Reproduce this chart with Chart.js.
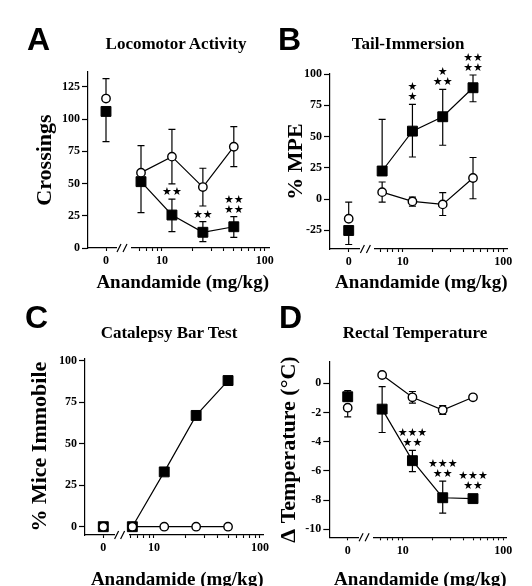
<!DOCTYPE html>
<html>
<head>
<meta charset="utf-8">
<script src="https://cdn.jsdelivr.net/npm/chart.js@4.4.1/dist/chart.umd.min.js"></script>
<style>
  body { margin: 0; background: #fff; }
  #wrap { position: relative; width: 532px; height: 586px; overflow: hidden; }
  canvas { position: absolute; left: 0; top: 0; }
  .letter { position: absolute; font: bold 32px "Liberation Sans", Arial, sans-serif; line-height: 1; color: #000; }
  .ptitle { position: absolute; font: bold 17px "Liberation Serif", "Times New Roman", serif; line-height: 1;
            color: #000; white-space: nowrap; transform: translateX(-50%); }
</style>
</head>
<body>
<div id="wrap">
  <canvas id="chartA" width="532" height="586"></canvas>
  <canvas id="chartB" width="532" height="586"></canvas>
  <canvas id="chartC" width="532" height="586"></canvas>
  <canvas id="chartD" width="532" height="586"></canvas>
  <div class="letter" style="left:27px;top:23px">A</div>
  <div class="letter" style="left:278px;top:23px">B</div>
  <div class="letter" style="left:25px;top:301px">C</div>
  <div class="letter" style="left:279px;top:301px">D</div>
  <div class="ptitle" style="left:176px;top:35px">Locomotor Activity</div>
  <div class="ptitle" style="left:408px;top:35px">Tail-Immersion</div>
  <div class="ptitle" style="left:169px;top:324px">Catalepsy Bar Test</div>
  <div class="ptitle" style="left:415px;top:324px">Rectal Temperature</div>
</div>
<script>
// doses on the log part of the x axis; the first value of every series below is the 0 mg/kg point
const doses = [6.25, 12.5, 25, 50];
const logTicks = [6, 7, 8, 9, 10, 20, 30, 40, 50, 60, 70, 80, 90, 100];
const logLabels = [10, 100];
const xTitle = 'Anandamide (mg/kg)';

// A - Locomotor Activity
const locoTicks = [0, 25, 50, 75, 100, 125];
const locoOpen = [116, 58.5, 70.9, 47.3, 78.6];
const locoOpenUp = [15.5, 21, 21.2, 14.6, 15.6];
const locoOpenDown = [0, 0, 21.2, 14.7, 15.5];
const locoFilled = [106, 51.5, 25.6, 12.2, 16.5];
const locoFilledUp = [0, 0, 12.4, 8.2, 7.8];
const locoFilledDown = [23.5, 24.1, 12.9, 7.3, 8.2];
const locoStars = ['', '', '**', '**', '**\n**'];

// B - Tail-Immersion
const tailTicks = [-25, 0, 25, 50, 75, 100];
const tailOpen = [-15.8, 5.5, -1.9, -4.3, 16.8];
const tailOpenUp = [13.3, 8.1, 3.4, 9.4, 16.4];
const tailOpenDown = [0, 8, 3.8, 8.9, 16.6];
const tailFilled = [-25.2, 22.4, 54.3, 65.8, 89];
const tailFilledUp = [0, 41.3, 21.4, 21.9, 10.2];
const tailFilledDown = [11.2, 0, 20.7, 22.8, 11.2];
const tailStars = ['', '', '*\n*', '*\n**', '**\n**'];

// C - Catalepsy Bar Test
const catTicks = [0, 25, 50, 75, 100];
const catOpen = [0, 0, 0, 0, 0];
const catFilled = [0, 0, 33, 67, 88];

// D - Rectal Temperature
const tempTicks = [-10, -8, -6, -4, -2, 0];
const tempOpen = [-1.67, 0.57, -0.96, -1.83, -0.96];
const tempOpenUp = [0, 0, 0.4, 0.3, 0.15];
const tempOpenDown = [0.63, 0, 0.4, 0.3, 0.15];
const tempFilled = [-0.92, -1.77, -5.3, -7.84, -7.9];
const tempFilledUp = [0.42, 1.54, 0.7, 1.14, 0];
const tempFilledDown = [0, 1.6, 0.75, 1.06, 0];
const tempStars = ['', '', '***\n**', '***\n**', '***\n**'];

const serif = '"Liberation Serif", "Times New Roman", serif';
const INK = '#000';

// vertical error bars, drawn under the markers
const errorBars = {
  id: 'errorBars',
  beforeDatasetsDraw(chart) {
    const ctx = chart.ctx, y = chart.scales.y;
    ctx.save();
    ctx.strokeStyle = INK;
    ctx.lineWidth = 1.2;
    chart.data.datasets.forEach((ds, i) => {
      if (!ds.errUp) return;
      chart.getDatasetMeta(i).data.forEach((pt, j) => {
        const v = ds.data[j].y;
        [[ds.errUp[j], 1], [ds.errDown[j], -1]].forEach(([e, sign]) => {
          if (!e) return;
          const py = y.getPixelForValue(v + sign * e);
          ctx.beginPath();
          ctx.moveTo(pt.x, pt.y); ctx.lineTo(pt.x, py);
          ctx.moveTo(pt.x - 3.5, py); ctx.lineTo(pt.x + 3.5, py);
          ctx.stroke();
        });
      });
    });
    ctx.restore();
  }
};

// significance stars above the upper error bar
const starMarks = {
  id: 'starMarks',
  afterDatasetsDraw(chart) {
    const ctx = chart.ctx, y = chart.scales.y;
    ctx.save();
    ctx.fillStyle = INK;
    ctx.font = '11px "DejaVu Sans", sans-serif';
    ctx.textAlign = 'center';
    ctx.textBaseline = 'middle';
    chart.data.datasets.forEach((ds, i) => {
      if (!ds.stars) return;
      chart.getDatasetMeta(i).data.forEach((pt, j) => {
        if (!ds.stars[j]) return;
        const rows = ds.stars[j].split('\n');
        const top = Math.min(y.getPixelForValue(ds.data[j].y + (ds.errUp[j] || 0)), pt.y - 5);
        rows.forEach((r, k) => {
          const yy = top - 7 - (rows.length - 1 - k) * 10;
          ctx.fillText(r.replace(/\*/g, '\u2605'), pt.x, yy);
        });
      });
    });
    ctx.restore();
  }
};

// "//" break between the 0 dose and the log dose axis
const axisBreak = {
  id: 'axisBreak',
  afterDraw(chart) {
    const ctx = chart.ctx;
    const x = chart.scales.x0.right, y = chart.chartArea.bottom;
    ctx.save();
    ctx.clearRect(x - 7, y - 2, 14, 4);
    ctx.strokeStyle = INK;
    ctx.lineWidth = 1.2;
    ctx.beginPath();
    ctx.moveTo(x - 7, y + 4); ctx.lineTo(x - 3, y - 4);
    ctx.moveTo(x - 1, y + 4); ctx.lineTo(x + 3, y - 4);
    ctx.stroke();
    ctx.restore();
  }
};

function buildPanel(canvasId, p) {
  const zero = vals => [{x: 0, y: vals[0]}];
  const line = vals => doses.map((d, i) => ({x: d, y: vals[i + 1]}));
  const first = arr => arr ? arr.slice(0, 1) : undefined;
  const rest = arr => arr ? arr.slice(1) : undefined;

  const openStyle = {pointStyle: 'circle', pointRadius: 4.2, pointBackgroundColor: '#fff',
                     pointBorderColor: INK, pointBorderWidth: 1.4, borderColor: INK, borderWidth: 1.2};
  const filledStyle = {pointStyle: 'rect', pointRadius: 7, pointBackgroundColor: INK,
                       pointBorderColor: INK, pointBorderWidth: 1, borderColor: INK, borderWidth: 1.2};

  const datasets = [
    {...openStyle, xAxisID: 'x0', yAxisID: 'y', showLine: false, data: zero(p.open),
     errUp: first(p.openUp), errDown: first(p.openDown)},
    {...openStyle, xAxisID: 'xl', yAxisID: 'y', data: line(p.open),
     errUp: rest(p.openUp), errDown: rest(p.openDown)},
    {...filledStyle, xAxisID: 'x0', yAxisID: 'y', showLine: false, data: zero(p.filled),
     errUp: first(p.filledUp), errDown: first(p.filledDown)},
    {...filledStyle, xAxisID: 'xl', yAxisID: 'y', data: line(p.filled),
     errUp: rest(p.filledUp), errDown: rest(p.filledDown), stars: rest(p.stars)}
  ];

  const tickFont = {family: serif, size: 12, weight: 'bold'};
  const border = {color: INK, width: 1.2};
  const xGrid = {drawOnChartArea: false, drawTicks: true, tickLength: 3, color: INK, tickColor: INK, tickWidth: 1.1};
  const xTicks = {color: INK, font: tickFont, padding: 3, maxRotation: 0, minRotation: 0, autoSkip: false};

  new Chart(document.getElementById(canvasId), {
    type: 'line',
    data: {datasets},
    options: {
      responsive: false,
      animation: false,
      events: [],
      layout: {padding: p.pad, autoPadding: false},
      plugins: {legend: {display: false}, tooltip: {enabled: false}},
      scales: {
        x0: {
          type: 'linear', position: 'bottom', stack: 'dose', stackWeight: p.w0,
          min: -1, max: 1,
          afterBuildTicks: s => { s.ticks = [{value: 0}]; },
          afterFit: s => { s.height = 20; },
          ticks: {...xTicks, callback: () => '0'},
          grid: xGrid, border
        },
        xl: {
          type: 'logarithmic', position: 'bottom', stack: 'dose', stackWeight: p.wl,
          min: p.logMin, max: p.logMax,
          afterBuildTicks: s => { s.ticks = logTicks.map(v => ({value: v})); },
          afterFit: s => { s.height = 20; },
          ticks: {...xTicks, callback: v => logLabels.includes(v) ? String(v) : ''},
          grid: xGrid, border
        },
        xt: {
          type: 'linear', position: 'bottom',
          afterFit: s => { s.height = p.titleH; },
          ticks: {display: false}, grid: {display: false}, border: {display: false},
          title: {display: true, text: xTitle, align: 'end', color: INK, padding: 0,
                  font: {family: serif, size: 19, weight: 'bold', lineHeight: 0.6}}
        },
        y: {
          type: 'linear', position: 'left', min: p.yMin, max: p.yMax,
          afterBuildTicks: s => { s.ticks = p.yTicks.map(v => ({value: v})); },
          afterFit: s => { s.width = p.yWidth; },
          ticks: {color: INK, font: tickFont, padding: 2},
          grid: {drawOnChartArea: false, drawTicks: true, tickLength: 6, tickColor: INK, tickWidth: 1.2},
          border,
          title: {display: true, text: p.yTitle, color: INK, padding: 0,
                  font: {family: serif, size: 22, weight: 'bold', lineHeight: 1.2}}
        }
      }
    },
    plugins: [errorBars, starMarks, axisBreak]
  });
}

buildPanel('chartA', {
  pad: {left: 31.8, top: 72, right: 263, bottom: 297.3}, yWidth: 56.2, w0: 36, wl: 145, titleH: 20.7,
  logMin: 4.27, logMax: 110, yMin: 0, yMax: 136.6, yTicks: locoTicks, yTitle: 'Crossings',
  open: locoOpen, openUp: locoOpenUp, openDown: locoOpenDown,
  filled: locoFilled, filledUp: locoFilledUp, filledDown: locoFilledDown, stars: locoStars
});

buildPanel('chartB', {
  pad: {left: 282.8, top: 74, right: 24.3, bottom: 297}, yWidth: 47.2, w0: 37.4, wl: 140.3, titleH: 20,
  logMin: 4.46, logMax: 110.6, yMin: -40, yMax: 100, yTicks: tailTicks, yTitle: '% MPE',
  open: tailOpen, openUp: tailOpenUp, openDown: tailOpenDown,
  filled: tailFilled, filledUp: tailFilledUp, filledDown: tailFilledDown, stars: tailStars
});

buildPanel('chartC', {
  pad: {left: 26.8, top: 358.3, right: 268.5, bottom: 0.3}, yWidth: 58.2, w0: 36.6, wl: 141.9, titleH: 30.7,
  logMin: 4.95, logMax: 108, yMin: -5, yMax: 101.4, yTicks: catTicks, yTitle: '% Mice Immobile',
  open: catOpen, filled: catFilled
});

buildPanel('chartD', {
  pad: {left: 276.1, top: 361.7, right: 25.3, bottom: 0.3}, yWidth: 53.2, w0: 36.8, wl: 140.6, titleH: 28.4,
  logMin: 4.33, logMax: 108.1, yMin: -10.55, yMax: 1.48, yTicks: tempTicks, yTitle: '\u0394 Temperature (\u00B0C)',
  open: tempOpen, openUp: tempOpenUp, openDown: tempOpenDown,
  filled: tempFilled, filledUp: tempFilledUp, filledDown: tempFilledDown, stars: tempStars
});
</script>
</body>
</html>
